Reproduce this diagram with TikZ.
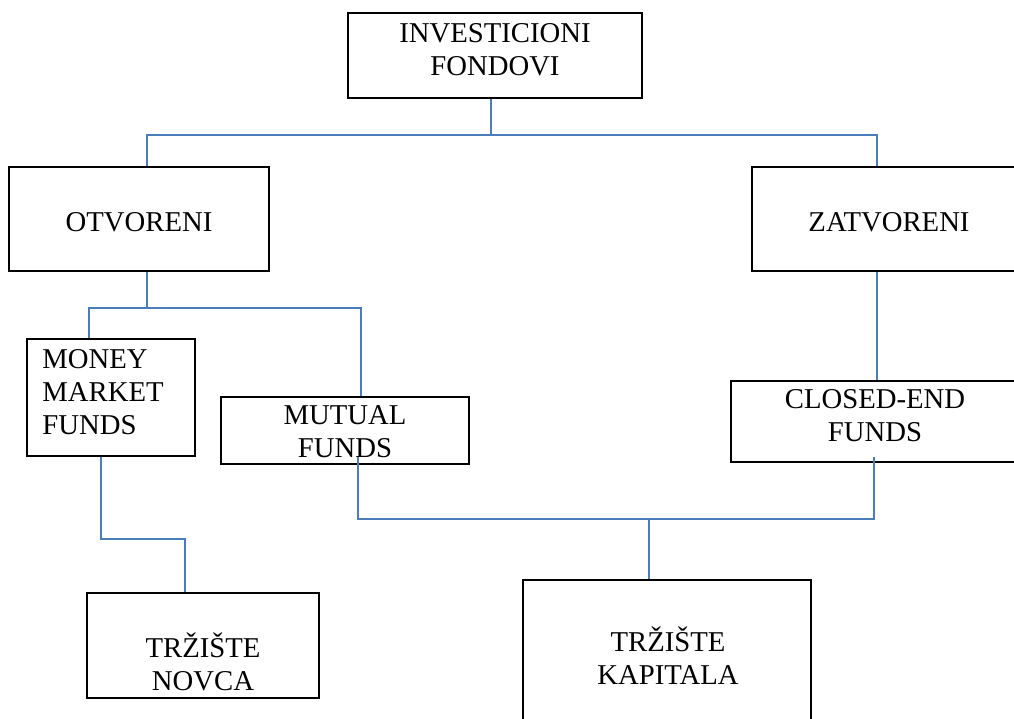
\documentclass[tikz,border=0pt]{standalone}
\usepackage{fontspec}
\setmainfont{Liberation Serif}
\usepackage{tikz}
\usetikzlibrary{fit, calc}
\definecolor{linkblue}{HTML}{4A7EBB}

\begin{document}
\begin{tikzpicture}[
  x=0.0147cm, y=-0.0147cm,
  box/.style={draw=black, line width=1.2pt, inner sep=0pt},
  txt/.style={font=\fontsize{12pt}{14pt}\selectfont, align=center,
              inner sep=0pt, anchor=base},
  link/.style={draw=linkblue, line width=0.9pt}
]
  \useasboundingbox (0,0) rectangle (1014,719);

  \node[box, fit={(348,13) (642,98)}]   (inv) {};
  \node[box, fit={(9,167) (269,271)}]   (otv) {};
  \node[box, fit={(752,167) (1026,271)}] (zat) {};
  \node[box, fit={(27,339) (195,456)}]  (mmf) {};
  \node[box, fit={(221,397) (469,464)}] (mut) {};
  \node[box, fit={(731,381) (1019,462)}] (cef) {};
  \node[box, fit={(87,593) (319,698)}]  (nov) {};
  \node[box, fit={(523,580) (811,745)}] (kap) {};

  \node[txt] (invtxt) at (495,76)  {INVESTICIONI\\FONDOVI};
  \node[txt] (otvtxt) at (139,232) {OTVORENI};
  \node[txt] (zattxt) at (889,232) {ZATVORENI};
  \node[txt, align=left, anchor=base west] (mmftxt) at (42,435) {MONEY\\MARKET\\FUNDS};
  \node[txt] (muttxt) at (345,458) {MUTUAL\\FUNDS};
  \node[txt] (ceftxt) at (875,442) {CLOSED-END\\FUNDS};
  \node[txt] (novtxt) at (203,691) {TRŽIŠTE\\NOVCA};
  \node[txt] (kaptxt) at (668,685) {TRŽIŠTE\\KAPITALA};

  \coordinate (jtop)  at (491,135);
  \coordinate (jotv)  at (147,135);
  \coordinate (jzat)  at (877,135);
  \coordinate (jdown) at (147,308);
  \coordinate (jmmf)  at (89,308);
  \coordinate (jmut)  at (361,308);
  \coordinate (jmm)   at (101,539);
  \coordinate (jnov)  at (185,539);
  \coordinate (jmu)   at (358,519);
  \coordinate (jcef)  at (874,519);
  \coordinate (jkap)  at (649,519);

  \draw[link] (inv.south -| jtop) -- (jtop);
  \draw[link] (otv.north -| jotv) -- (jotv) -- (jzat) -- (zat.north -| jzat);
  \draw[link] (otv.south -| jdown) -- (jdown);
  \draw[link] (mmf.north -| jmmf) -- (jmmf) -- (jmut) -- (mut.north -| jmut);
  \draw[link] (zat.south -| jzat) -- (cef.north -| jzat);
  \draw[link] (mmf.south -| jmm) -- (jmm) -- (jnov) -- (nov.north -| jnov);
  \draw[link] ($(mut.south -| jmu)+(0,-8)$) -- (jmu) -- (jcef) -- ($(cef.south -| jcef)+(0,-6)$);
  \draw[link] (jkap) -- (kap.north -| jkap);
\end{tikzpicture}
\end{document}
